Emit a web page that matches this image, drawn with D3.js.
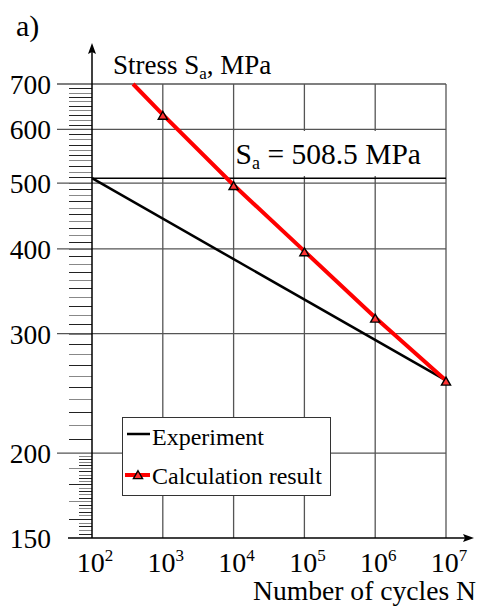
<!DOCTYPE html>
<html>
<head>
<meta charset="utf-8">
<script src="https://cdn.jsdelivr.net/npm/d3@7"></script>
<style>
body { margin: 0; background: #fff; }
text { font-family: "Liberation Serif", "Times New Roman", serif; fill: #000; }
</style>
</head>
<body>
<svg id="chart" width="478" height="607"></svg>
<script>
// data
var cycleTicks = [1e2, 1e3, 1e4, 1e5, 1e6, 1e7];
var tickExp = ["2", "3", "4", "5", "6", "7"];
var stressTicks = [150, 200, 300, 400, 500, 600, 700];
var stressGrid = [200, 300, 400, 500, 600, 700];
var expN = [1e2, 1e7];
var expS = [508.5, 256];
var calcN = [1e3, 1e4, 1e5, 1e6, 1e7];
var calcS = [631, 497, 397, 317, 256];
var calcStart = [380, 700];   // where the red line enters at the top
var sLimit = 508.5;

var svg = d3.select("#chart");
svg.append("rect").attr("width", 478).attr("height", 607).attr("fill", "#fff");

var x = d3.scaleLog().domain([1e2, 1e7]).range([92, 446]);
var y = d3.scaleLog().domain([150, 700]).range([538, 84]);

var gridColor = "#555";

// minor ticks on the stress axis
var minor = d3.range(152, 200, 2).concat(d3.range(210, 700, 10));
svg.selectAll("line.minor").data(minor)
    .enter().append("line")
    .attr("class", "minor")
    .attr("x1", function(d) { return d % 10 == 0 ? 69 : 79; })
    .attr("x2", 92)
    .attr("y1", function(d) { return Math.round(y(d)) + 0.5; })
    .attr("y2", function(d) { return Math.round(y(d)) + 0.5; })
    .attr("stroke", function(d, i) { return i % 2 ? "#888" : "#222"; })
    .attr("stroke-width", 1);

// grid
svg.selectAll("line.hgrid").data(stressGrid)
    .enter().append("line")
    .attr("class", "hgrid")
    .attr("x1", 57).attr("x2", x(1e7))
    .attr("y1", function(d) { return y(d); })
    .attr("y2", function(d) { return y(d); })
    .attr("stroke", gridColor).attr("stroke-width", 1.3);

svg.selectAll("line.vgrid").data(cycleTicks.slice(1))
    .enter().append("line")
    .attr("class", "vgrid")
    .attr("x1", function(d) { return x(d); })
    .attr("x2", function(d) { return x(d); })
    .attr("y1", y(700)).attr("y2", y(150))
    .attr("stroke", gridColor).attr("stroke-width", 1.3);

// S_a label box
svg.append("rect")
    .attr("x", x(1e4) + 1).attr("y", 131)
    .attr("width", x(1e7) - x(1e4) - 2).attr("height", 45)
    .attr("fill", "#fff");
var sa = svg.append("text").attr("x", x(1e4) + 2).attr("y", 164)
    .style("font-size", "29.5px");
sa.append("tspan").text("S");
sa.append("tspan").text("a").attr("dy", 5).style("font-size", "18px");
sa.append("tspan").text(" = " + sLimit + " MPa").attr("dy", -5);

// limit line
svg.append("line")
    .attr("x1", x(1e2)).attr("x2", x(1e7))
    .attr("y1", y(sLimit)).attr("y2", y(sLimit))
    .attr("stroke", "#000").attr("stroke-width", 1.5);

// axes with arrows
svg.append("line").attr("x1", 68).attr("x2", 470)
    .attr("y1", y(150)).attr("y2", y(150))
    .attr("stroke", "#000").attr("stroke-width", 1.5);
svg.append("path")
    .attr("d", "M474," + y(150) + "l-11,-4l2,4l-2,4z").attr("fill", "#000");
svg.append("line").attr("x1", x(1e2)).attr("x2", x(1e2))
    .attr("y1", y(150)).attr("y2", 48)
    .attr("stroke", "#000").attr("stroke-width", 1.5);
svg.append("path")
    .attr("d", "M" + x(1e2) + ",43l-4,11l4,-2l4,2z").attr("fill", "#000");

// tick labels
svg.selectAll("text.ylab").data(stressTicks)
    .enter().append("text")
    .attr("class", "ylab")
    .attr("x", 51)
    .attr("y", function(d) { return y(d) + 10; })
    .attr("text-anchor", "end")
    .style("font-size", "27.5px")
    .text(function(d) { return d; });

var xl = svg.selectAll("text.xlab").data(cycleTicks)
    .enter().append("text")
    .attr("class", "xlab")
    .attr("x", function(d) { return x(d) + 3; })
    .attr("y", 572)
    .attr("text-anchor", "middle")
    .style("font-size", "28px");
xl.append("tspan").text("10");
xl.append("tspan").text(function(d, i) { return tickExp[i]; })
    .attr("dy", -11).style("font-size", "17px");

// axis titles
var st = svg.append("text").attr("x", 113).attr("y", 74).style("font-size", "27px");
st.append("tspan").text("Stress S");
st.append("tspan").text("a").attr("dy", 5).style("font-size", "17px");
st.append("tspan").text(", MPa").attr("dy", -5);

svg.append("text").attr("x", 476).attr("y", 600)
    .attr("text-anchor", "end").style("font-size", "27.6px")
    .text("Number of cycles N");

svg.append("text").attr("x", 16).attr("y", 36)
    .style("font-size", "30px").text("a)");

// series
var line = d3.line()
    .x(function(d) { return x(d[0]); })
    .y(function(d) { return y(d[1]); });

svg.append("path")
    .datum(expN.map(function(n, i) { return [n, expS[i]]; }))
    .attr("d", line).attr("fill", "none")
    .attr("stroke", "#000").attr("stroke-width", 2.5);

var calc = calcN.map(function(n, i) { return [n, calcS[i]]; });
svg.append("path")
    .datum([calcStart].concat(calc))
    .attr("d", line).attr("fill", "none")
    .attr("stroke", "#f00").attr("stroke-width", 4);

var tri = d3.symbol().type(d3.symbolTriangle).size(36);
svg.selectAll("path.mark").data(calc)
    .enter().append("path")
    .attr("class", "mark")
    .attr("d", tri)
    .attr("transform", function(d) { return "translate(" + x(d[0]) + "," + (y(d[1]) + 2) + ")"; })
    .attr("fill", "#f33").attr("stroke", "#000").attr("stroke-width", 1.4);

// legend
var lg = svg.append("g");
lg.append("rect").attr("x", 122.5).attr("y", 417.5).attr("width", 208).attr("height", 78)
    .attr("fill", "#fff").attr("stroke", "#333").attr("stroke-width", 1);
lg.append("line").attr("x1", 127).attr("x2", 150).attr("y1", 434).attr("y2", 434)
    .attr("stroke", "#000").attr("stroke-width", 2.5);
lg.append("text").attr("x", 152).attr("y", 445).style("font-size", "24px").text("Experiment");
lg.append("line").attr("x1", 125).attr("x2", 150).attr("y1", 475).attr("y2", 475)
    .attr("stroke", "#f00").attr("stroke-width", 4);
lg.append("path").attr("d", tri).attr("transform", "translate(138,476)")
    .attr("fill", "#f33").attr("stroke", "#000").attr("stroke-width", 1.4);
lg.append("text").attr("x", 152).attr("y", 484).style("font-size", "24px").text("Calculation result");
</script>
</body>
</html>
